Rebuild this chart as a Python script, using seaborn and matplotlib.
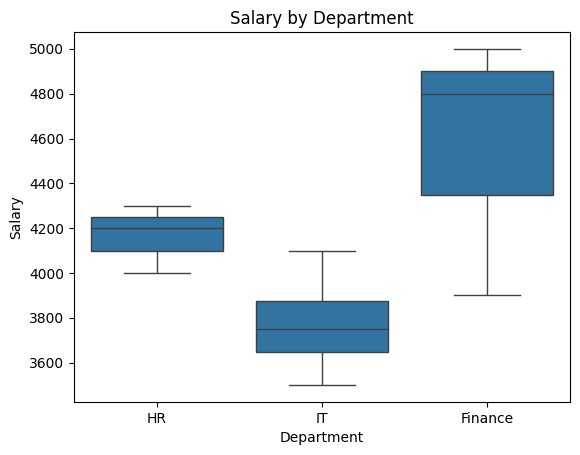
import matplotlib
matplotlib.use("Agg")
import matplotlib.pyplot as plt
import seaborn as sns
import pandas as pd

hr_salaries = [4000, 4200, 4300]
it_salaries = [3500, 3700, 3800, 4100]
finance_salaries = [3900, 4800, 5000]
departments = ["HR", "IT", "Finance"]

rows = []
for dept, vals in zip(departments, [hr_salaries, it_salaries, finance_salaries]):
    for v in vals:
        rows.append({"Department": dept, "Salary": v})
df = pd.DataFrame(rows)

fig, ax = plt.subplots(figsize=(5.8, 4.55), dpi=100)
sns.boxplot(data=df, x="Department", y="Salary", order=departments, ax=ax)
ax.set_title("Salary by Department")
fig.subplots_adjust(left=0.1276, right=0.9828, top=0.9297, bottom=0.1165)
fig.savefig("out.png", dpi=100)
